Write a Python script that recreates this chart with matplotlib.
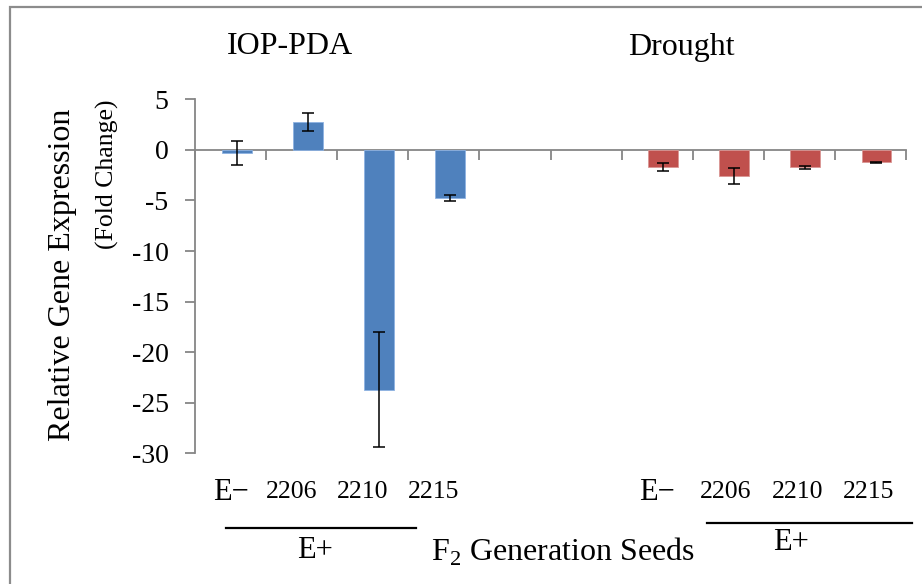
import matplotlib

matplotlib.use("Agg")
import matplotlib.pyplot as plt
from matplotlib.patches import Rectangle
from matplotlib.transforms import blended_transform_factory
import numpy as np

# Values (fold change, mean +/- error)
GROUP_TITLES = ["IOP-PDA", "Drought"]
LINE_LABELS = ["E\u2212", "2206", "2210", "2215"]
IOP_VALUES = [-0.3, 2.75, -23.7, -4.75]
IOP_ERRORS = [1.2, 0.85, 5.65, 0.3]
DROUGHT_VALUES = [-1.65, -2.6, -1.7, -1.2]
DROUGHT_ERRORS = [0.4, 0.8, 0.15, 0.05]
Y_TICKS = [5, 0, -5, -10, -15, -20, -25, -30]

BLUE = "#4F81BD"
RED = "#C0504D"
AXIS_GRAY = "#868686"

plt.rcParams["font.family"] = ["Liberation Serif", "DejaVu Serif"]
plt.rcParams["axes.unicode_minus"] = False
plt.rcParams["mathtext.fontset"] = "custom"
plt.rcParams["mathtext.rm"] = "Liberation Serif"

W, H = 922, 584
fig = plt.figure(figsize=(W / 100, H / 100), dpi=100)
ax = fig.add_axes([195 / W, 1 - 453.3 / H, 711 / W, 354 / H])


def fy(px):
    return 1 - px / H


n = len(LINE_LABELS)
iop_slots = np.arange(n)
drought_slots = np.arange(n) + 6
offset, width = 0.085, 0.42

ax.bar(iop_slots + offset, IOP_VALUES, width, color=BLUE,
       edgecolor="#8DB3E2", linewidth=0.6, zorder=2)
ax.bar(drought_slots + offset, DROUGHT_VALUES, width, color=RED,
       edgecolor="#DA9694", linewidth=0.6, zorder=2)
ax.errorbar(iop_slots + offset, IOP_VALUES, yerr=IOP_ERRORS, fmt="none",
            ecolor="black", elinewidth=1.1, capsize=4.5, capthick=1.1, zorder=3)
ax.errorbar(drought_slots + offset, DROUGHT_VALUES, yerr=DROUGHT_ERRORS, fmt="none",
            ecolor="black", elinewidth=1.1, capsize=4.5, capthick=1.1, zorder=3)

ax.set_xlim(-0.5, 9.5)
ax.set_ylim(-30, 5)
ax.set_yticks(Y_TICKS)
ax.set_yticklabels([str(t) for t in Y_TICKS])
ax.set_xticks(np.arange(11) - 0.5)
ax.set_xticklabels([])

for side in ("top", "right"):
    ax.spines[side].set_visible(False)
ax.spines["bottom"].set_position(("data", 0))
for side in ("left", "bottom"):
    ax.spines[side].set_color(AXIS_GRAY)
    ax.spines[side].set_linewidth(1.3)
    ax.spines[side].set_zorder(1)
ax.tick_params(axis="y", direction="out", length=7, width=1.3, color=AXIS_GRAY,
               labelsize=20, pad=12)
ax.tick_params(axis="x", direction="out", length=7, width=1.3, color=AXIS_GRAY)

# group titles
fig.text(290 / W, fy(47), GROUP_TITLES[0], fontsize=23, ha="center", va="center")
fig.text(681 / W, fy(47), GROUP_TITLES[1], fontsize=23, ha="center", va="center")

# category labels under the plot
tr = blended_transform_factory(ax.transData, fig.transFigure)
for slots, shift in ((iop_slots, -0.14), (drought_slots, -0.03)):
    for i, (s, lab) in enumerate(zip(slots, LINE_LABELS)):
        x = s if i == 0 else s + shift
        fs = 22 if i == 0 else 18.5
        ax.text(x, fy(492), lab, transform=tr, fontsize=fs, ha="center",
                va="center", clip_on=False)

# E+ brackets
fig.add_artist(plt.Line2D([226 / W, 416 / W], [fy(528)] * 2, color="black", lw=1.6))
fig.add_artist(plt.Line2D([707 / W, 912 / W], [fy(523)] * 2, color="black", lw=1.6))
fig.text(315 / W, fy(551), "E+", fontsize=22, ha="center", va="center")
fig.text(791 / W, fy(542), "E+", fontsize=22, ha="center", va="center")

fig.text(563 / W, fy(552), r"F$_{\mathrm{2}}$ Generation Seeds", fontsize=23,
         ha="center", va="center")

# y label (two lines, top aligned as in the original)
fig.text(63 / W, fy(275), "Relative Gene Expression", fontsize=23,
         rotation=90, ha="center", va="center")
fig.text(107 / W, fy(174), "(Fold Change)", fontsize=18.5,
         rotation=90, ha="center", va="center")

# outer chart border, clipped by the image at right and bottom
fig.add_artist(Rectangle((10 / W, -0.1), 1.2, fy(7) + 0.1, transform=fig.transFigure,
                         fill=False, edgecolor="#8C8C8C", linewidth=1.6, clip_on=False))

fig.savefig("out.png", dpi=100)
